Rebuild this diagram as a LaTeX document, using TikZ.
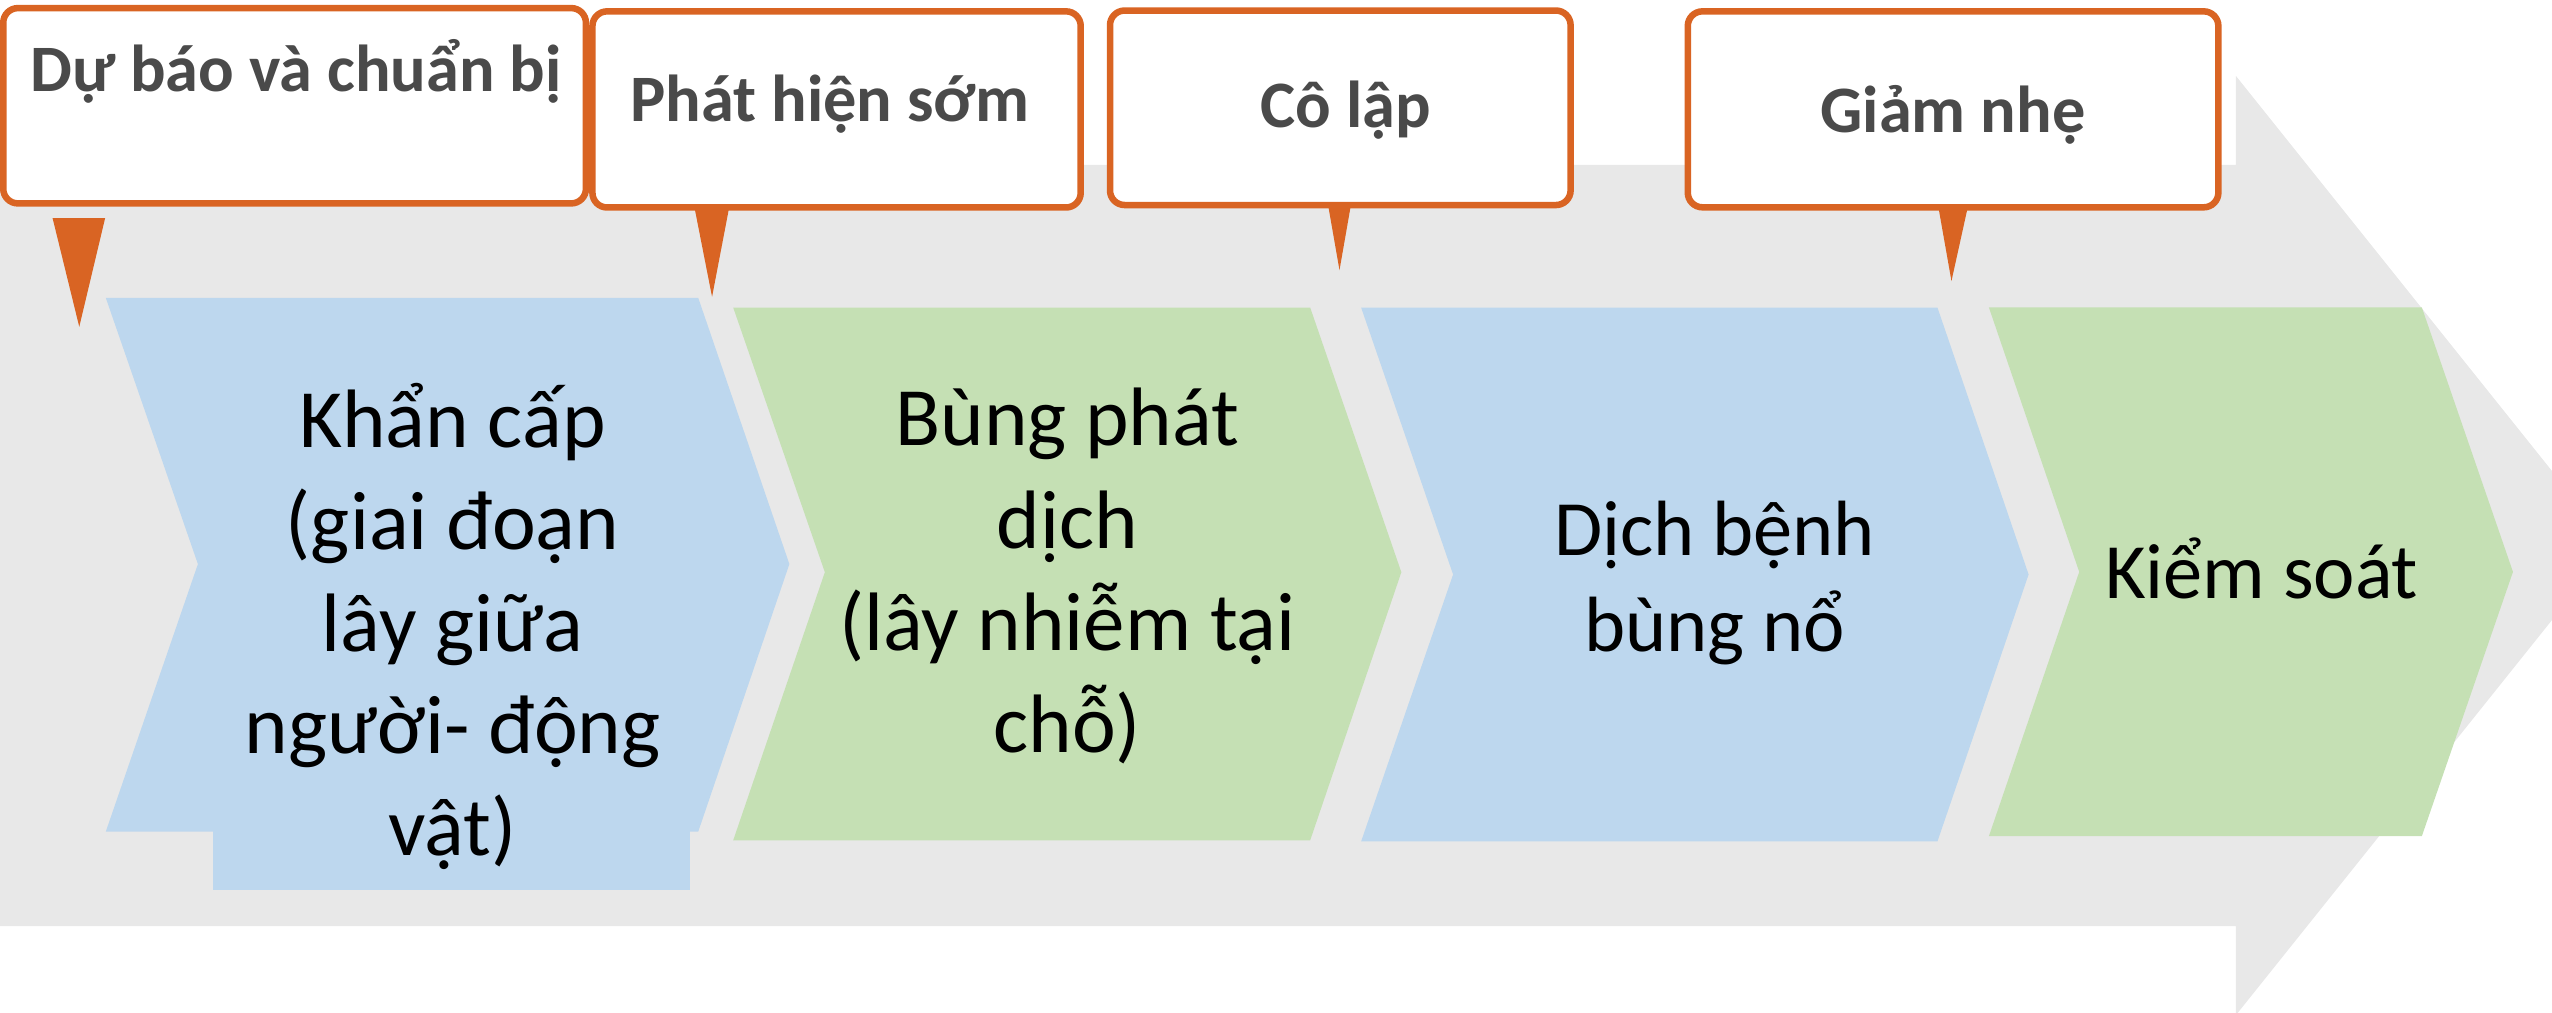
\documentclass[tikz,border=0pt]{standalone}
\usepackage{fontspec}
\setmainfont{Carlito}
\usepackage{tikz}
\usetikzlibrary{positioning,calc}
\definecolor{cOrange}{HTML}{D96423}
\definecolor{cBlue}{HTML}{BDD7EE}
\definecolor{cGreen}{HTML}{C5E0B4}
\definecolor{cFog}{HTML}{E8E8E8}
\definecolor{cInk}{HTML}{4A4A4A}
\tikzset{
  callout/.style={draw=cOrange,line width=0.04cm,rounded corners=0.09cm,fill=white,inner sep=0pt,outer sep=0pt,anchor=north west},
  tag/.style={font=\bfseries\fontsize{11.6}{14}\selectfont,text=cInk,anchor=base,inner sep=0pt},
  phase/.style={font=\fontsize{14.5}{17.85}\selectfont,align=center,anchor=north,inner sep=0pt},
  phasesm/.style={phase,font=\fontsize{13.7}{16.8}\selectfont},
  wedge/.style={fill=cOrange,draw=none},
}

\begin{document}
\begin{tikzpicture}
  \useasboundingbox (0,0) rectangle (15.68,6.22);
  \clip (0,0) rectangle (15.68,6.22);
  \fill[cFog] (0,5.206) -- (13.738,5.206) -- (13.738,5.753) -- (16.046,2.868)
    -- (13.738,-0.017) -- (13.738,0.53) -- (0,0.53) -- cycle;
  \foreach \l/\n/\r/\t/\b/\m/\c in {0.65/1.216/4.29/4.39/1.11/2.754/cBlue,
      4.505/5.068/8.05/4.33/1.057/2.704/cGreen,
      8.363/8.928/11.904/4.33/1.05/2.69/cBlue,
      12.22/12.775/14.88/4.331/1.082/2.706/cGreen}
    \fill[\c] (\l,\t) -- (\r,\t) -- ({\r+0.56},\m) -- (\r,\b) -- (\l,\b) -- (\n,\m) -- cycle;
  \fill[cBlue] (1.31,1.12) rectangle (4.24,0.75);
  \node[callout,minimum width=3.58cm,minimum height=1.20cm] (prep) at (0.02,6.17) {};
  \node[callout,minimum width=3.00cm,minimum height=1.205cm] (detect) at (3.64,6.15) {};
  \node[callout,minimum width=2.83cm,minimum height=1.195cm] (isolate) at (6.82,6.155) {};
  \node[callout,minimum width=3.26cm,minimum height=1.204cm] (mitigate) at (10.37,6.15) {};
  \coordinate (tip1) at (0.487,4.212);
  \coordinate (tip2) at (4.375,4.396);
  \coordinate (tip3) at (8.23,4.56);
  \coordinate (tip4) at (11.99,4.493);
  \fill[wedge] ($(prep.south west)+(0.303,-0.09)$) -- ++(0.323,0) -- (tip1) -- cycle;
  \fill[wedge] ($(detect.south west)+(0.627,0)$) -- ++(0.213,0) -- (tip2) -- cycle;
  \fill[wedge] ($(isolate.south west)+(1.34,0)$) -- ++(0.14,0) -- (tip3) -- cycle;
  \fill[wedge] ($(mitigate.south west)+(1.54,0)$) -- ++(0.18,0) -- (tip4) -- cycle;
  \node[tag] (tPrep) at (1.82,5.657) {Dự báo và chuẩn bị};
  \node[tag] (tDetect) at (5.10,5.472) {Phát hiện sớm};
  \node[tag] (tIsolate) at (8.27,5.435) {Cô lập};
  \node[tag] (tMitigate) at (12.00,5.407) {Giảm nhẹ};
  \node[phase] (emergency) at (2.78,3.875) {Khẩn cấp\\(giai đoạn\\lây giữa\\người- động\\vật)};
  \node[phase] (outbreak) at (6.558,3.841) {Bùng phát\\dịch\\(lây nhiễm tại\\chỗ)};
  \node[phasesm] (epidemic) at (10.535,3.15) {Dịch bệnh\\bùng nổ};
  \node[phasesm,anchor=base] (control) at (13.896,2.54) {Kiểm soát};
\end{tikzpicture}
\end{document}
